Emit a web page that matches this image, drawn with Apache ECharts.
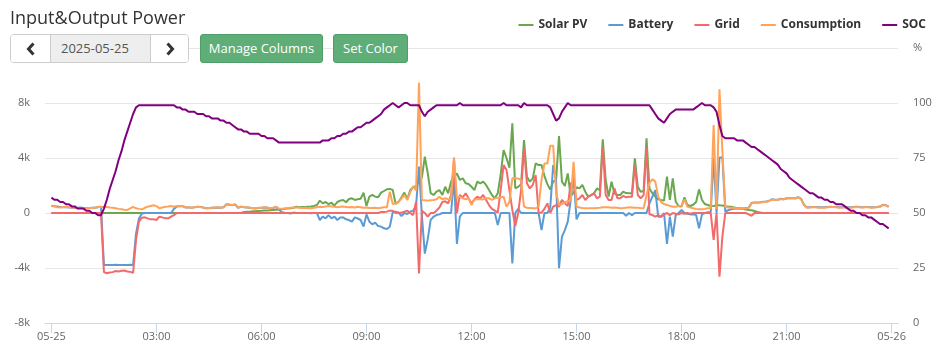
<!DOCTYPE html>
<html>
<head>
<meta charset="utf-8">
<script src="https://cdn.jsdelivr.net/npm/echarts@6/dist/echarts.min.js"></script>
<style>
html,body{margin:0;padding:0;background:#fff;width:944px;height:360px;overflow:hidden;font-family:"Open Sans",Arial,sans-serif;}
#chart{position:absolute;left:0;top:0;width:944px;height:360px;z-index:0;}
.title{position:absolute;left:10px;top:5px;font-size:18px;line-height:24px;color:#333;z-index:2;white-space:nowrap;}
.dategroup{position:absolute;left:10px;top:34px;width:177px;height:27px;border:1px solid #ccc;border-radius:4px;background:#fff;z-index:2;overflow:hidden;}
.dategroup .nav{position:absolute;top:0;width:39px;height:27px;background:#fff;}
.dategroup .prev{left:0;border-right:1px solid #ccc;}
.dategroup .next{right:0;border-left:1px solid #ccc;width:37px;}
.dategroup .nav svg{position:absolute;left:50%;top:50%;transform:translate(-50%,-50%);}
.dategroup .date{position:absolute;left:40px;top:0;width:100px;height:27px;background:#eee;color:#555;font-size:13px;line-height:27px;padding-left:10px;box-sizing:border-box;}
.btn{position:absolute;top:34px;height:29px;box-sizing:border-box;border:1px solid #4f9d69;border-radius:3px;background:#5fae78;color:#fff;font-size:13px;line-height:27px;text-align:center;z-index:2;white-space:nowrap;}
</style>
</head>
<body>
<div id="chart"></div>
<div class="title">Input&amp;Output Power</div>
<div class="dategroup">
  <div class="nav prev"><svg width="10" height="14" viewBox="0 0 10 14"><polyline points="7.5,1.5 2.5,7 7.5,12.5" fill="none" stroke="#333" stroke-width="3"/></svg></div>
  <div class="date">2025-05-25</div>
  <div class="nav next"><svg width="10" height="14" viewBox="0 0 10 14"><polyline points="2.5,1.5 7.5,7 2.5,12.5" fill="none" stroke="#333" stroke-width="3"/></svg></div>
</div>
<div class="btn" style="left:200px;width:123px;">Manage Columns</div>
<div class="btn" style="left:333px;width:75px;">Set Color</div>
<script>
// ---- data: one value every 5 minutes, 00:00 .. 23:55 (12 values per row = one hour) ----
const stepMinutes = 5;
const seriesNames = ['Solar PV', 'Battery', 'Grid', 'Consumption', 'SOC'];
const xTicks = [0, 180, 360, 540, 720, 900, 1080, 1260, 1440];
const xTickLabels = ['05-25', '03:00', '06:00', '09:00', '12:00', '15:00', '18:00', '21:00', '05-26'];
const powerTicks = [-8000, -4000, 0, 4000, 8000, 12000];
const powerTickLabels = ['-8k', '-4k', '0', '4k', '8k', ''];
const socTicks = [0, 25, 50, 75, 100, 125];
const socTickLabels = ['0', '25', '50', '75', '100', '%'];

const solarPV = [
  0,0,0,0,0,0,0,0,0,0,0,0,
  0,0,0,0,0,0,0,0,0,0,0,0,
  0,0,0,0,0,0,0,0,0,0,0,0,
  0,0,0,0,0,0,0,0,0,0,0,0,
  0,0,0,0,0,0,0,0,0,0,0,0,
  0,0,0,0,0,0,80,100,100,120,130,150,
  160,180,180,200,220,240,250,280,300,330,350,380,
  450,420,440,430,450,470,510,580,900,700,800,650,
  750,530,800,900,950,780,1020,1070,950,1000,1040,1480,
  510,1190,1310,1190,1140,1480,1600,1720,1750,1670,650,820,
  1140,1480,1000,1670,1870,1960,2280,2600,4100,2900,1450,1310,
  1550,1670,1310,1910,1430,2280,2600,2880,2400,2520,2160,2110,
  1910,1670,2280,2160,2280,2040,1670,1310,1070,1430,2800,4580,
  4000,3300,6520,1800,1900,2100,5310,2640,2280,2520,3610,3490,
  3490,2700,2100,1700,2300,2400,5600,2280,1960,2880,1190,1500,
  1870,1790,2040,1550,1190,1300,1430,1790,1670,5360,2400,1190,
  2280,1430,1310,1310,1550,1450,1430,1430,3980,1910,1550,1600,
  5430,1790,1430,1190,1000,945,900,2640,950,2520,820,510,
  480,1140,580,510,600,800,1720,945,650,580,510,500,
  580,560,550,500,470,450,400,340,330,300,260,220,
  200,150,80,30,0,0,0,0,0,0,0,0,
  0,0,0,0,0,0,0,0,0,0,0,0,
  0,0,0,0,0,0,0,0,0,0,0,0,
  0,0,0,0,0,0,0,0,0,0,0,0
];
const battery = [
  520,500,470,430,420,430,400,380,370,380,400,360,
  360,370,380,390,420,450,-3780,-3780,-3790,-3780,-3770,-3780,
  -3780,-3780,-3780,-3770,-3780,-1500,-400,-50,0,0,0,0,
  0,0,0,0,0,0,300,480,490,500,400,410,
  380,410,450,430,400,340,350,390,390,400,380,410,
  640,600,570,620,380,450,420,400,380,350,330,370,
  380,400,390,330,370,440,250,60,20,0,-40,30,
  0,0,0,0,0,-20,0,0,-510,-270,-390,-150,
  -390,-270,-510,-320,-320,-460,-510,-630,-320,-400,-510,-990,
  -100,-630,-820,-700,-950,-990,-1110,-1160,-1000,50,100,25,
  -220,0,-70,100,170,510,3370,-200,-2950,-1900,-500,-270,
  -150,-100,0,0,0,0,2600,-2250,-270,0,0,0,
  0,0,0,0,0,0,0,0,0,-870,0,0,
  0,0,-3660,0,300,0,0,0,0,0,0,0,
  -1240,0,0,400,3490,2400,-4020,-1720,-1240,-630,945,2800,
  -460,0,0,0,0,0,0,0,0,0,0,0,
  0,0,0,0,0,-200,0,-150,0,0,0,0,
  0,700,1190,1670,-270,-270,0,-2250,-270,-1720,-150,0,
  220,0,-50,-100,-100,-150,-1110,-100,0,50,50,4040,
  0,4040,4040,100,200,270,300,320,330,340,360,390,
  720,760,770,780,810,840,880,1000,960,970,1040,1000,
  1070,1090,1080,1070,1150,1020,580,420,420,440,430,410,
  420,410,430,450,440,430,410,420,430,420,410,440,
  450,430,420,440,440,410,420,430,470,600,580,460
];
const grid = [
  0,0,0,0,0,0,0,0,0,0,0,0,
  0,0,0,0,0,0,-4300,-4380,-4330,-4300,-4220,-4250,
  -4200,-4180,-4250,-4280,-4350,-1960,-630,-340,-315,-390,-460,-460,
  -510,-270,-320,-390,-390,-270,-150,0,0,0,0,0,
  0,0,0,0,0,0,0,0,0,0,0,0,
  0,0,0,0,0,0,0,0,0,0,0,0,
  0,0,0,0,0,0,0,0,0,0,0,0,
  0,0,0,0,0,0,0,0,0,0,0,0,
  0,0,0,0,0,0,0,0,0,0,0,0,
  0,0,0,0,0,70,70,100,170,170,0,25,
  25,100,170,0,-150,820,-4390,170,0,-270,0,0,
  170,400,800,850,700,1310,3970,0,1310,1140,1430,1070,
  700,1000,1190,1070,1310,945,580,300,170,25,1670,3490,
  3130,1670,220,-950,0,1670,4700,2160,1790,2040,2760,25,
  25,300,700,0,460,580,460,945,700,510,2160,2160,
  945,1070,1310,945,1190,1300,1430,1070,1190,4820,1310,945,
  945,1790,1070,1070,1240,1140,1190,1190,3490,1310,1070,1300,
  4820,-100,-150,-270,-150,-270,-100,0,-150,0,-50,-100,
  0,-50,0,-50,0,0,0,0,0,0,0,-1960,
  0,-4630,-1700,0,0,0,0,0,0,0,0,-100,
  -200,0,0,0,0,0,0,0,0,0,0,0,
  0,0,0,0,0,0,0,0,0,0,0,0,
  0,0,0,0,0,0,0,0,0,0,0,0,
  0,0,0,0,0,0,0,0,0,0,0,0
];
const consumption = [
  500,480,420,400,440,460,430,390,380,360,350,340,
  340,360,370,400,450,430,460,430,400,380,340,300,
  270,240,220,330,440,340,300,270,380,460,510,560,
  500,340,400,460,480,510,460,510,500,510,410,420,
  390,420,460,430,410,340,360,390,400,410,390,420,
  650,620,580,630,390,460,430,410,390,360,340,380,
  390,410,400,340,380,460,320,300,340,360,390,400,
  400,380,360,380,350,340,380,420,460,440,480,510,
  480,450,420,460,470,440,410,430,400,450,420,380,
  400,370,360,380,340,380,410,420,1550,650,700,800,
  1070,1310,950,1500,1960,1650,9480,950,930,900,930,950,
  1000,1190,1000,1070,1000,950,4050,1070,1190,1070,1000,1070,
  580,990,1000,1000,990,1070,1070,950,1070,1100,1150,1190,
  460,820,2520,2550,2500,2400,460,380,360,340,340,460,
  2400,3600,3600,4900,4900,1500,580,650,780,850,900,3730,
  460,400,370,350,340,350,340,360,380,410,420,410,
  390,400,380,350,360,390,410,400,380,390,360,340,
  1310,2200,2450,2300,1190,800,650,580,520,460,460,500,
  500,990,460,390,340,300,280,270,300,340,340,6400,
  300,9000,4500,460,400,380,360,340,330,330,340,350,
  700,750,750,760,800,820,870,990,950,950,1020,990,
  1050,1070,1070,1050,1140,1000,550,390,400,430,410,390,
  400,390,410,440,430,410,390,400,420,400,390,420,
  430,410,400,430,420,390,400,410,450,580,560,440
];
const soc = [
  57,56,56,55,55,54,54,53,53,52,52,52,
  51,51,50,50,49,49,52,56,61,65,69,74,
  78,83,87,91,95,98,99,99,99,99,99,99,
  99,99,99,99,99,99,99,98,98,97,97,96,
  96,96,95,95,95,94,94,93,93,93,92,92,
  91,91,90,89,88,88,87,87,86,86,86,86,
  85,85,84,84,84,83,82,82,82,82,82,82,
  82,82,82,82,82,82,82,82,82,83,83,83,
  84,84,85,85,86,86,87,87,88,89,89,90,
  91,91,92,93,94,95,97,98,99,100,99,98,
  99,100,100,99,99,99,99,96,94,96,97,98,
  99,99,99,99,99,99,99,99,100,99,99,99,
  99,99,99,99,99,99,99,99,99,99,99,100,
  99,99,99,99,99,98,100,99,99,99,99,99,
  99,99,99,98,95,92,93,96,98,100,99,99,
  99,99,99,99,99,99,99,99,99,99,99,99,
  99,99,99,99,99,99,99,99,99,99,99,99,
  99,99,97,95,93,92,91,93,95,96,97,97,
  97,97,97,97,97,98,99,100,99,99,99,98,
  96,90,85,84,84,84,84,83,83,83,82,81,
  80,80,79,78,77,76,75,74,73,72,70,69,
  68,66,65,64,63,62,61,60,59,59,58,57,
  57,56,56,55,55,54,54,54,53,52,51,51,
  50,50,49,49,48,48,47,46,45,45,44,43
];

const seriesValues = [solarPV, battery, grid, consumption, soc];
const seriesColors = ['#6aa84f', '#5b9bd5', '#f26a6a', '#ffa35a', '#800080'];

const chart = echarts.init(document.getElementById('chart'), null, {renderer: 'canvas', width: 944, height: 360});
const toPoints = arr => arr.map((v, i) => [i * stepMinutes, v]);

const option = {
  animation: false,
  textStyle: {fontFamily: '"Open Sans", Arial, sans-serif'},
  grid: {left: 45, right: 46, top: 48, bottom: 37, containLabel: false},
  legend: {
    data: seriesNames,
    right: 13, top: 14,
    icon: 'rect', itemWidth: 15, itemHeight: 2, itemGap: 21,
    textStyle: {fontSize: 12, fontWeight: 'bold', color: '#333', fontFamily: '"Open Sans", Arial, sans-serif'}
  },
  xAxis: {
    type: 'value', min: -11, max: 1451,
    axisLine: {onZero: false, lineStyle: {color: '#ccd6eb'}},
    axisTick: {show: true, length: 10, customValues: xTicks, lineStyle: {color: '#ccd6eb'}},
    axisLabel: {customValues: xTicks, formatter: v => xTickLabels[xTicks.indexOf(v)], color: '#666', fontSize: 11, margin: 8},
    splitLine: {show: false}
  },
  yAxis: [
    {
      type: 'value', min: -8000, max: 12000, interval: 4000, position: 'left',
      axisLine: {show: false}, axisTick: {show: false},
      splitLine: {lineStyle: {color: '#e6e6e6'}},
      axisLabel: {formatter: v => powerTickLabels[powerTicks.indexOf(v)], color: '#666', fontSize: 11, margin: 15}
    },
    {
      type: 'value', min: 0, max: 125, interval: 25, position: 'right',
      axisLine: {show: false}, axisTick: {show: false}, splitLine: {show: false},
      axisLabel: {formatter: v => socTickLabels[socTicks.indexOf(v)], color: '#666', fontSize: 11, margin: 15}
    }
  ],
  series: seriesNames.map((name, k) => ({
    name: name,
    type: 'line',
    yAxisIndex: k === 4 ? 1 : 0,
    data: toPoints(seriesValues[k]),
    showSymbol: false,
    symbol: 'none',
    color: seriesColors[k],
    lineStyle: {width: 2, color: seriesColors[k]},
    emphasis: {disabled: true}
  }))
};
chart.setOption(option);
</script>
</body>
</html>
